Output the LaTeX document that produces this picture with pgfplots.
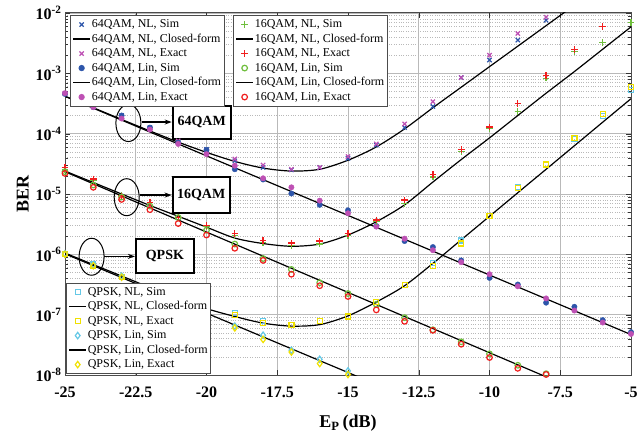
\documentclass[border=0pt]{standalone}
\usepackage{fontspec}
\setmainfont{Liberation Serif}
\usepackage{pgfplots}
\pgfplotsset{compat=1.18}
\usetikzlibrary{arrows.meta}
\definecolor{cB}{RGB}{45,85,170}
\definecolor{cM}{RGB}{190,80,180}
\definecolor{cG}{RGB}{110,190,60}
\definecolor{cR}{RGB}{240,30,30}
\definecolor{cC}{RGB}{100,200,230}
\definecolor{cY}{RGB}{240,225,0}
\pgfplotsset{
  mySaNLs/.style={only marks, mark=x, mark size=3pt, line width=1.2pt, color=cB},
  mySaNLe/.style={only marks, mark=x, mark size=3pt, line width=1.2pt, color=cM},
  mySaLs/.style={only marks, mark=*, mark size=2.7pt, color=cB},
  mySaLe/.style={only marks, mark=*, mark size=2.7pt, color=cM},
  mySbNLs/.style={only marks, mark=+, mark size=3.3pt, line width=1.3pt, color=cG},
  mySbNLe/.style={only marks, mark=+, mark size=3.3pt, line width=1.3pt, color=cR},
  mySbLs/.style={only marks, mark=o, mark size=2.8pt, line width=1.2pt, color=cG},
  mySbLe/.style={only marks, mark=o, mark size=2.8pt, line width=1.2pt, color=cR},
  myScNLs/.style={only marks, mark=square, mark size=2.5pt, line width=1.2pt, color=cC},
  myScNLe/.style={only marks, mark=square, mark size=2.5pt, line width=1.2pt, color=cY},
  myScLs/.style={only marks, mark=diamond, mark size=3.2pt, line width=1.2pt, color=cC},
  myScLe/.style={only marks, mark=diamond, mark size=3.2pt, line width=1.2pt, color=cY},
  myCF/.style={no marks, black, line width=1.2pt},
}
\begin{document}
\begin{tikzpicture}
\begin{axis}[name=main, scale only axis, width=566pt, height=362pt,
  xmin=-25, xmax=-5, ymode=log, ymin=1e-8, ymax=1e-2,
  xtick={-25,-22.5,-20,-17.5,-15,-12.5,-10,-7.5,-5},
  xticklabels={-25,-22.5,-20,-17.5,-15,-12.5,-10,-7.5,-5},
  ytick={1e-8,1e-7,1e-6,1e-5,1e-4,1e-3,1e-2},
  yticklabels={10\textsuperscript{-8},10\textsuperscript{-7},10\textsuperscript{-6},10\textsuperscript{-5},10\textsuperscript{-4},10\textsuperscript{-3},10\textsuperscript{-2}},
  ticklabel style={font=\bfseries\fontsize{16}{18}\selectfont},
  xticklabel style={yshift=-8pt},
  xlabel={\textbf{E\textsubscript{P}\,(dB)}},
  ylabel={\textbf{BER}},
  label style={font=\fontsize{18}{20}\selectfont},
  xlabel style={yshift=-11pt},
  grid=both,
  major grid style={gray!55, line width=0.6pt},
  minor grid style={gray!55, dotted, line width=0.6pt},
  tick align=inside,
  major tick length=5pt, minor tick length=3pt,
  tick style={black!80},
  axis line style={gray!60!black, line width=1pt},
]
% ---- 64QAM
\addplot[mySaNLs] coordinates {(-25,0.457e-3)(-24,0.288e-3)(-23,0.200e-3)(-22,0.126e-3)(-21,0.724e-4)(-20,0.550e-4)(-19,0.355e-4)(-18,0.275e-4)(-17,0.251e-4)(-16,0.275e-4)(-15,0.389e-4)(-14,0.646e-4)(-13,0.126e-3)(-12,0.282e-3)(-11,0.851e-3)(-10,0.166e-2)(-9,0.355e-2)(-8,0.759e-2)};
\addplot[myCF, smooth] coordinates {(-25,0.417e-3)(-24,0.269e-3)(-23,0.172e-3)(-22,0.111e-3)(-21,0.724e-4)(-20,0.490e-4)(-19,0.347e-4)(-18,0.269e-4)(-17,0.240e-4)(-16,0.257e-4)(-15,0.363e-4)(-14,0.603e-4)(-13,0.120e-3)(-12,0.269e-3)(-11,0.589e-3)(-10,0.129e-2)(-9,0.282e-2)(-8,0.617e-2)(-7,0.135e-1)};
\addplot[mySaNLe] coordinates {(-25,0.468e-3)(-24,0.282e-3)(-23,0.191e-3)(-22,0.123e-3)(-21,0.759e-4)(-20,0.525e-4)(-19,0.380e-4)(-18,0.302e-4)(-17,0.257e-4)(-16,0.275e-4)(-15,0.417e-4)(-14,0.676e-4)(-13,0.145e-3)(-12,0.339e-3)(-11,0.851e-3)(-10,0.200e-2)(-9,0.457e-2)(-8,0.851e-2)};
\addplot[mySaLs] coordinates {(-25,0.457e-3)(-24,0.275e-3)(-23,0.200e-3)(-22,0.126e-3)(-21,0.708e-4)(-20,0.537e-4)(-19,0.257e-4)(-18,0.174e-4)(-17,0.102e-4)(-16,0.661e-5)(-15,0.537e-5)(-14,0.295e-5)(-13,0.166e-5)(-12,0.132e-5)(-11,0.794e-6)(-10,0.407e-6)(-9,0.316e-6)(-8,0.158e-6)(-7,0.135e-6)(-6,0.813e-7)(-5,0.513e-7)};
\addplot[myCF] coordinates {(-25,0.417e-3)(-20,0.429e-4)(-15,0.442e-5)(-10,0.454e-6)(-5,0.468e-7)};
\addplot[mySaLe] coordinates {(-25,0.468e-3)(-24,0.275e-3)(-23,0.178e-3)(-22,0.117e-3)(-21,0.676e-4)(-20,0.457e-4)(-19,0.295e-4)(-18,0.182e-4)(-17,0.129e-4)(-16,0.776e-5)(-15,0.479e-5)(-14,0.288e-5)(-13,0.182e-5)(-12,0.117e-5)(-11,0.741e-6)(-10,0.468e-6)(-9,0.295e-6)(-8,0.186e-6)(-7,0.117e-6)(-6,0.741e-7)(-5,0.479e-7)};
% ---- 16QAM
\addplot[mySbNLs] coordinates {(-25,0.251e-4)(-24,0.166e-4)(-23,0.955e-5)(-22,0.724e-5)(-21,0.407e-5)(-20,0.288e-5)(-19,0.204e-5)(-18,0.158e-5)(-17,0.141e-5)(-16,0.148e-5)(-15,0.204e-5)(-14,0.347e-5)(-13,0.692e-5)(-12,0.191e-4)(-11,0.501e-4)(-10,0.123e-3)(-9,0.234e-3)(-8,0.832e-3)(-7,0.229e-2)(-6,0.324e-2)(-5,0.692e-2)};
\addplot[myCF, smooth] coordinates {(-25,0.240e-4)(-24,0.155e-4)(-23,0.100e-4)(-22,0.646e-5)(-21,0.427e-5)(-20,0.282e-5)(-19,0.186e-5)(-18,0.151e-5)(-17,0.136e-5)(-16,0.148e-5)(-15,0.209e-5)(-14,0.347e-5)(-13,0.661e-5)(-12,0.158e-4)(-11,0.372e-4)(-10,0.851e-4)(-9,0.200e-3)(-8,0.468e-3)(-7,0.107e-2)(-6,0.251e-2)(-5,0.589e-2)};
\addplot[mySbNLe] coordinates {(-25,0.275e-4)(-24,0.178e-4)(-23,0.933e-5)(-22,0.724e-5)(-21,0.407e-5)(-20,0.302e-5)(-19,0.219e-5)(-18,0.170e-5)(-17,0.155e-5)(-16,0.166e-5)(-15,0.224e-5)(-14,0.372e-5)(-13,0.794e-5)(-12,0.209e-4)(-11,0.550e-4)(-10,0.129e-3)(-9,0.316e-3)(-8,0.912e-3)(-7,0.251e-2)(-6,0.603e-2)};
\addplot[mySbLs] coordinates {(-25,0.234e-4)(-24,0.141e-4)(-23,0.891e-5)(-22,0.631e-5)(-21,0.407e-5)(-20,0.251e-5)(-19,0.148e-5)(-18,0.851e-6)(-17,0.562e-6)(-16,0.339e-6)(-15,0.224e-6)(-14,0.148e-6)(-13,0.891e-7)(-12,0.562e-7)(-11,0.355e-7)(-10,0.224e-7)(-9,0.145e-7)(-8,0.105e-7)};
\addplot[myCF] coordinates {(-25,0.234e-4)(-20,0.234e-5)(-15,0.234e-6)(-10,0.234e-7)(-7.5,0.741e-8)};
\addplot[mySbLe] coordinates {(-25,0.219e-4)(-24,0.129e-4)(-23,0.813e-5)(-22,0.550e-5)(-21,0.324e-5)(-20,0.209e-5)(-19,0.126e-5)(-18,0.794e-6)(-17,0.468e-6)(-16,0.302e-6)(-15,0.200e-6)(-14,0.120e-6)(-13,0.776e-7)(-12,0.550e-7)(-11,0.324e-7)(-10,0.195e-7)(-9,0.129e-7)(-8,0.102e-7)};
% ---- QPSK
\addplot[myScNLs] coordinates {(-25,0.102e-5)(-24,0.676e-6)(-23,0.427e-6)(-22,0.275e-6)(-21,0.182e-6)(-20,0.132e-6)(-19,0.107e-6)(-18,0.776e-7)(-17,0.676e-7)(-16,0.794e-7)(-15,0.933e-7)(-14,0.162e-6)(-13,0.309e-6)(-12,0.724e-6)(-11,0.170e-5)(-10,0.437e-5)(-9,0.129e-4)(-8,0.309e-4)(-7,0.813e-4)(-6,0.195e-3)(-5,0.537e-3)};
\addplot[myCF, smooth] coordinates {(-25,0.105e-5)(-24,0.676e-6)(-23,0.437e-6)(-22,0.282e-6)(-21,0.186e-6)(-20,0.126e-6)(-19,0.933e-7)(-18,0.724e-7)(-17,0.646e-7)(-16,0.684e-7)(-15,0.955e-7)(-14,0.162e-6)(-13,0.302e-6)(-12,0.708e-6)(-11,0.174e-5)(-10,0.427e-5)(-9,0.105e-4)(-8,0.257e-4)(-7,0.631e-4)(-6,0.155e-3)(-5,0.380e-3)};
\addplot[myScNLe] coordinates {(-25,0.100e-5)(-24,0.646e-6)(-23,0.417e-6)(-22,0.269e-6)(-21,0.178e-6)(-20,0.126e-6)(-19,0.100e-6)(-18,0.724e-7)(-17,0.676e-7)(-16,0.794e-7)(-15,0.933e-7)(-14,0.162e-6)(-13,0.309e-6)(-12,0.646e-6)(-11,0.151e-5)(-10,0.437e-5)(-9,0.126e-4)(-8,0.309e-4)(-7,0.851e-4)(-6,0.214e-3)(-5,0.589e-3)};
\addplot[myScLs] coordinates {(-25,0.102e-5)(-24,0.676e-6)(-23,0.437e-6)(-22,0.263e-6)(-21,0.166e-6)(-20,0.105e-6)(-19,0.646e-7)(-18,0.457e-7)(-17,0.257e-7)(-16,0.182e-7)(-15,0.117e-7)};
\addplot[myCF] coordinates {(-25,0.102e-5)(-20,0.106e-6)(-15,0.110e-7)(-14,0.692e-8)};
\addplot[myScLe] coordinates {(-25,0.100e-5)(-24,0.646e-6)(-23,0.417e-6)(-22,0.251e-6)(-21,0.158e-6)(-20,0.100e-6)(-19,0.603e-7)(-18,0.389e-7)(-17,0.240e-7)(-16,0.155e-7)(-15,0.102e-7)};
% ---- annotations
\draw[black, line width=1pt] (axis cs:-22.76,1.5e-4) ellipse [x radius=12.5pt, y radius=18.5pt];
\node[draw, fill=white, line width=2pt, minimum width=58pt, minimum height=33pt, inner sep=0pt,
  font=\bfseries\fontsize{14}{16}\selectfont] (b64) at (axis cs:-20.17,1.56e-4) {64QAM};
\draw[line width=1.2pt, -{Stealth[length=7pt, width=5pt]}] (axis cs:-22.29,1.56e-4) -- (b64.west);
\draw[black, line width=1pt] (axis cs:-22.82,0.885e-5) ellipse [x radius=12.5pt, y radius=18.5pt];
\node[draw, fill=white, line width=2pt, minimum width=57pt, minimum height=36pt, inner sep=0pt,
  font=\bfseries\fontsize{14}{16}\selectfont] (b16) at (axis cs:-20.19,0.96e-5) {16QAM};
\draw[line width=1.2pt, -{Stealth[length=7pt, width=5pt]}] (axis cs:-22.35,0.96e-5) -- (b16.west);
\draw[black, line width=1pt] (axis cs:-24.06,0.912e-6) ellipse [x radius=12.5pt, y radius=18.5pt];
\node[draw, fill=white, line width=2pt, minimum width=58pt, minimum height=34pt, inner sep=0pt,
  font=\bfseries\fontsize{14}{16}\selectfont] (bq) at (axis cs:-21.47,0.925e-6) {QPSK};
\draw[line width=1.2pt, -{Stealth[length=7pt, width=5pt]}] (axis cs:-23.62,0.925e-6) -- (bq.west);
\end{axis}
% ---- legends
\pgfplotsset{myLeg/.style={scale only axis, width=566pt, height=362pt,
    xmin=-25, xmax=-5, ymin=0, ymax=1, at={(main.south west)}, anchor=south west, hide axis,
    legend cell align=left,
    legend style={font=\fontsize{12}{14}\selectfont, draw=gray!60!black, line width=0.8pt,
      fill=white, inner sep=2pt,
      nodes={inner sep=1pt, text height=9pt, text depth=3pt}, row sep=0.5pt}}}
\begin{axis}[myLeg, legend style={at={(0.009,0.994)}, anchor=north west}]
\addlegendimage{mySaNLs}\addlegendentry{64QAM, NL, Sim}
\addlegendimage{myCF}\addlegendentry{64QAM, NL, Closed-form}
\addlegendimage{mySaNLe}\addlegendentry{64QAM, NL, Exact}
\addlegendimage{mySaLs}\addlegendentry{64QAM, Lin, Sim}
\addlegendimage{myCF}\addlegendentry{64QAM, Lin, Closed-form}
\addlegendimage{mySaLe}\addlegendentry{64QAM, Lin, Exact}
\end{axis}
\begin{axis}[myLeg, legend style={at={(0.297,0.994)}, anchor=north west}]
\addlegendimage{mySbNLs}\addlegendentry{16QAM, NL, Sim}
\addlegendimage{myCF}\addlegendentry{16QAM, NL, Closed-form}
\addlegendimage{mySbNLe}\addlegendentry{16QAM, NL, Exact}
\addlegendimage{mySbLs}\addlegendentry{16QAM, Lin, Sim}
\addlegendimage{myCF}\addlegendentry{16QAM, Lin, Closed-form}
\addlegendimage{mySbLe}\addlegendentry{16QAM, Lin, Exact}
\end{axis}
\begin{axis}[myLeg, legend style={at={(0.002,0.255)}, anchor=north west}]
\addlegendimage{myScNLs}\addlegendentry{QPSK, NL, Sim}
\addlegendimage{myCF}\addlegendentry{QPSK, NL, Closed-form}
\addlegendimage{myScNLe}\addlegendentry{QPSK, NL, Exact}
\addlegendimage{myScLs}\addlegendentry{QPSK, Lin, Sim}
\addlegendimage{myCF}\addlegendentry{QPSK, Lin, Closed-form}
\addlegendimage{myScLe}\addlegendentry{QPSK, Lin, Exact}
\end{axis}
\pgfresetboundingbox
\path[use as bounding box] ([xshift=-65pt,yshift=-57pt]main.south west) rectangle ([xshift=13pt,yshift=13pt]main.north east);
\end{tikzpicture}
\end{document}
